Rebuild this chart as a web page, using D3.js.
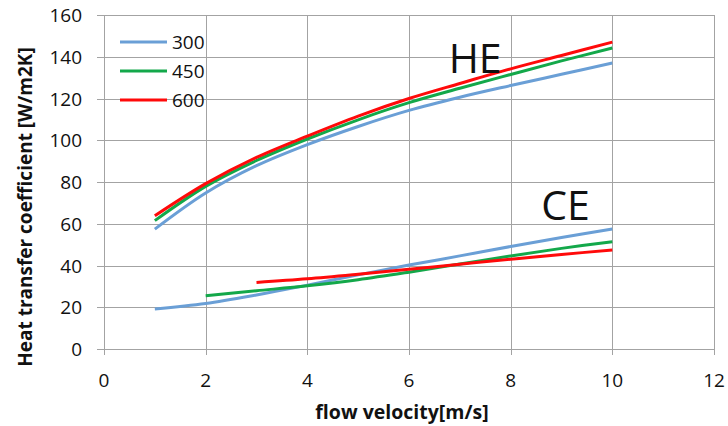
<!DOCTYPE html>
<html>
<head>
<meta charset="utf-8">
<script src="https://cdn.jsdelivr.net/npm/d3@7"></script>
<style>
  body { margin: 0; background: #fff; }
  text { font-family: "Open Sans", sans-serif; fill: #111; }
</style>
</head>
<body>
<svg id="chart"></svg>
<script>
// flow velocity [m/s]
const velocity = [1, 2, 3, 4, 5, 6, 7, 8, 9, 10];

// HE curves
const he300 = [57.4, 74.7, 87.8, 97.9, 106.6, 114.3, 120.6, 126.2, 131.6, 137.0];
const he450 = [61.5, 77.9, 90.3, 100.6, 109.8, 118.0, 124.9, 131.5, 138.0, 144.2];
const he600 = [63.8, 79.2, 91.8, 102.0, 111.6, 120.0, 127.2, 134.2, 140.6, 147.0];

// CE curves (450 starts at 2, 600 starts at 3)
const ce300 = [19.2, 21.8, 25.9, 30.6, 35.5, 40.2, 44.6, 49.1, 53.4, 57.5];
const ce450 = [null, 25.5, 27.9, 30.3, 33.2, 36.8, 40.7, 44.6, 48.2, 51.4];
const ce600 = [null, null, 31.9, 33.6, 35.8, 38.2, 40.6, 43.0, 45.3, 47.4];

const seriesNames = ['300', '450', '600'];
const xTicks = [0, 2, 4, 6, 8, 10, 12];
const yTicks = [0, 20, 40, 60, 80, 100, 120, 140, 160];

const colors = { '300': '#6a9fd6', '450': '#13a84a', '600': '#ff0a0a' };

const width = 728, height = 426;
const margin = { top: 15, right: 14, bottom: 77, left: 104 };
const innerW = width - margin.left - margin.right;
const innerH = height - margin.top - margin.bottom;

const svg = d3.select('#chart')
    .attr('width', width)
    .attr('height', height);

const chart = svg.append('g')
    .attr('transform', `translate(${margin.left}, ${margin.top})`);

const xscale = d3.scaleLinear().domain([0, 12]).range([0, innerW]);
const yscale = d3.scaleLinear().domain([0, 160]).range([innerH, 0]);

// grid
chart.append('g')
    .selectAll('line')
    .data(yTicks)
    .join('line')
    .attr('x1', -7)
    .attr('x2', innerW)
    .attr('y1', d => Math.round(yscale(d)) + 0.5)
    .attr('y2', d => Math.round(yscale(d)) + 0.5)
    .attr('stroke', '#a3a3a3');

chart.append('g')
    .selectAll('line')
    .data(xTicks)
    .join('line')
    .attr('x1', d => Math.round(xscale(d)) + 0.5)
    .attr('x2', d => Math.round(xscale(d)) + 0.5)
    .attr('y1', 0)
    .attr('y2', innerH + 6)
    .attr('stroke', '#a3a3a3');

// tick labels
chart.append('g')
    .selectAll('text')
    .data(yTicks)
    .join('text')
    .attr('x', -22)
    .attr('y', d => yscale(d) + 7)
    .attr('text-anchor', 'end')
    .style('font-size', '19px')
    .text(d => d);

chart.append('g')
    .selectAll('text')
    .data(xTicks)
    .join('text')
    .attr('x', d => xscale(d))
    .attr('y', innerH + 38)
    .attr('text-anchor', 'middle')
    .style('font-size', '19px')
    .text(d => d);

// axis titles
svg.append('text')
    .attr('x', 402)
    .attr('y', 419)
    .attr('text-anchor', 'middle')
    .style('font-size', '19.5px')
    .style('font-weight', 'bold')
    .text('flow velocity[m/s]');

svg.append('text')
    .attr('transform', 'rotate(-90)')
    .attr('x', -207)
    .attr('y', 32)
    .attr('text-anchor', 'middle')
    .style('font-size', '19px')
    .style('font-weight', 'bold')
    .text('Heat transfer coefficient [W/m2K]');

// curves
const line = d3.line()
    .x(d => xscale(d.x))
    .y(d => yscale(d.v))
    .curve(d3.curveCatmullRom.alpha(0.5));

const series = [
    { name: '300', values: he300 }, { name: '450', values: he450 }, { name: '600', values: he600 },
    { name: '300', values: ce300 }, { name: '450', values: ce450 }, { name: '600', values: ce600 }
];

chart.append('g')
    .selectAll('path')
    .data(series)
    .join('path')
    .attr('d', s => line(velocity.map((x, i) => ({ x: x, v: s.values[i] })).filter(d => d.v !== null)))
    .attr('fill', 'none')
    .attr('stroke', s => colors[s.name])
    .attr('stroke-width', 3);

// HE / CE labels
chart.append('text')
    .attr('x', xscale(6.78))
    .attr('y', yscale(132.4))
    .style('font-size', '41px')
    .text('HE');

chart.append('text')
    .attr('x', xscale(8.6))
    .attr('y', yscale(61.8))
    .style('font-size', '41px')
    .text('CE');

// legend
const legend = svg.append('g')
    .attr('transform', 'translate(120, 42)');

const item = legend.selectAll('g')
    .data(seriesNames)
    .join('g')
    .attr('transform', (d, i) => `translate(0, ${i * 29})`);

item.append('line')
    .attr('x1', 0)
    .attr('x2', 47)
    .attr('stroke', d => colors[d])
    .attr('stroke-width', 3);

item.append('text')
    .attr('x', 52)
    .attr('y', 7)
    .style('font-size', '19px')
    .text(d => d);
</script>
</body>
</html>
